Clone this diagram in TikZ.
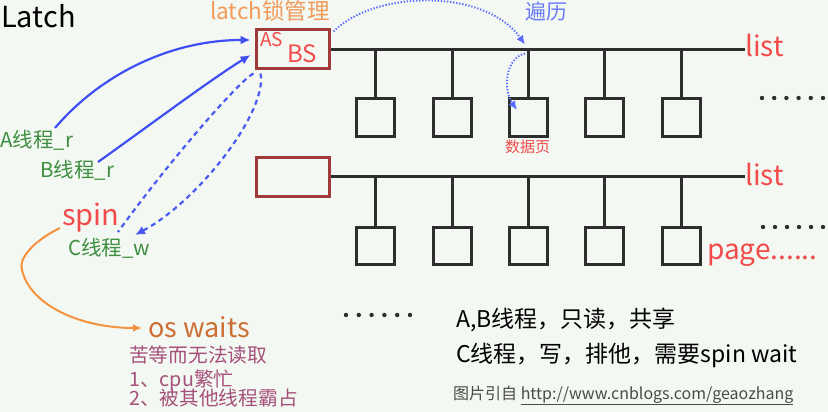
\documentclass[tikz,border=0pt]{standalone}
\usepackage{fontspec}
\setmainfont{Noto Sans CJK SC}
\usetikzlibrary{arrows.meta}
\definecolor{bg}{HTML}{F3F8F2}
\definecolor{latchred}{HTML}{A03A3A}
\definecolor{textred}{HTML}{F24B4B}
\definecolor{arrowblue}{HTML}{3F4FF5}
\definecolor{dashblue}{HTML}{4A5CF0}
\definecolor{dotblue}{HTML}{5A6BFF}
\definecolor{zhblue}{HTML}{6B7CF5}
\definecolor{thgreen}{HTML}{3E8E41}
\definecolor{orangeline}{HTML}{F39340}
\definecolor{titleorange}{HTML}{F29A5A}
\definecolor{osorange}{HTML}{CD6E35}
\definecolor{mauve}{HTML}{A5507A}
\definecolor{boxgray}{HTML}{2E2E2E}
\definecolor{notegray}{HTML}{4A4A4A}
\newcommand{\myfs}[1]{\fontsize{#1}{#1}\selectfont}
\begin{document}
\begin{tikzpicture}[x=1pt,y=-1pt,
  txt/.style={inner sep=0pt, anchor=base west},
  latchbox/.style={draw=latchred, line width=3pt, minimum width=73pt, minimum height=39pt, inner sep=0pt},
  pagebox/.style={draw=boxgray, line width=3pt, minimum width=38pt, minimum height=37pt, inner sep=0pt},
  bus/.style={draw=boxgray, line width=3pt},
  solidarrow/.style={draw=arrowblue, line width=2.2pt, -{Latex[length=10pt,width=9pt]}},
  dasharrow/.style={draw=dashblue, line width=2.2pt, dash pattern=on 5pt off 4pt},
  dotarrow/.style={draw=dotblue, line width=2pt, dash pattern=on 1.3pt off 1.8pt, -{Latex[length=9pt,width=8pt]}},
  orangearrow/.style={draw=orangeline, line width=2pt, -{Latex[length=9pt,width=8pt]}},
  dotc/.style={fill=boxgray}
]
\useasboundingbox (0,0) rectangle (828,412);
\fill[bg] (0,0) rectangle (828,412);

% titles
\node[txt, font=\myfs{29}] (title) at (1,28) {Latch};
\node[txt, text=titleorange, font=\myfs{22.5}] (mgr) at (210,20) {latch锁管理};
\node[txt, text=zhblue, font=\myfs{21}] (trav) at (525,20) {遍历};

% latch boxes
\node[latchbox] (L1) at (292.5,49.5) {};
\node[latchbox] (L2) at (292.5,176.5) {};
\node[txt, text=textred, font=\myfs{19}] (AS) at (260,47) {AS};
\node[txt, text=textred, font=\myfs{24}] (BS) at (287,63) {BS};

% lists
\node[txt, text=textred, font=\myfs{28}] (list1) at (745,57) {list};
\node[txt, text=textred, font=\myfs{28}] (list2) at (745,185) {list};
\draw[bus] (L1.east) -- (L1.east -| list1.west);
\draw[bus] (L2.east) -- (L2.east -| list2.west);

\foreach \i/\x in {1/375,2/452,3/528,4/604,5/681} {
  \node[pagebox] (p1\i) at (\x,117.5) {};
  \draw[bus] (p1\i.north) -- (p1\i.north |- L1.east);
  \node[pagebox] (p2\i) at (\x,245.5) {};
  \draw[bus] (p2\i.north) -- (p2\i.north |- L2.east);
}
\coordinate (j13) at (p13.north |- L1.east);

\node[txt, text=textred, font=\myfs{15}] (dpage) at (505,153) {数据页};
\node[txt, text=textred, font=\myfs{28}] (pagetxt) at (707,259) {page......};

% dots
\foreach \k in {0,...,5} {
  \fill[dotc] (762+12.2*\k,98) circle (2.2pt);
  \fill[dotc] (763+12*\k,227) circle (2.2pt);
  \fill[dotc] (346+12.8*\k,315) circle (2.2pt);
}

% traverse arrows
\draw[dotarrow] ([xshift=3pt,yshift=-3pt]L1.north east) .. controls (375,-10) and (485,-12) .. ([xshift=-3pt,yshift=5pt]j13);
\draw[dotarrow] ([xshift=-3pt,yshift=-4pt]j13) .. controls (505,58) and (503,90) .. ([xshift=-11pt,yshift=7.5pt]p13.center);

% threads
\node[txt, text=thgreen, font=\myfs{20.5}] (A) at (0,147) {A线程\_r};
\node[txt, text=thgreen, font=\myfs{20.5}] (B) at (40,177) {B线程\_r};
\node[txt, text=thgreen, font=\myfs{20.5}] (C) at (68,255) {C线程\_w};

\draw[solidarrow] (55,128) .. controls (100,75) and (170,40) .. ([xshift=-4pt,yshift=9.5pt]L1.west);
\draw[solidarrow] (98,162) .. controls (150,125) and (210,80) .. ([xshift=-4pt,yshift=-5.5pt]L1.west);

\draw[dasharrow] ([xshift=-1pt,yshift=-3pt]L1.south west) .. controls (240,80) and (170,160) .. (118,232);
\draw[dasharrow, -{Latex[length=10pt,width=9pt]}] ([xshift=6pt,yshift=-3pt]L1.south west) .. controls (268,110) and (200,200) .. (135,235);

% spin / os waits
\node[txt, text=textred, font=\myfs{29}] (spin) at (62,225) {spin};
\node[txt, text=osorange, font=\myfs{27}] (os) at (148,337) {os waits};
\draw[orangearrow] ([xshift=-2pt,yshift=-3pt]spin.base west) .. controls (35,240) and (18,258) .. (22,270) .. controls (30,305) and (80,328) .. ([xshift=-6pt,yshift=9pt]os.base west);

\node[txt, text=mauve, font=\myfs{19.7}] (m1) at (129,362) {苦等而无法读取};
\node[txt, text=mauve, font=\myfs{19.7}] (m2) at (129,386) {1、cpu繁忙};
\node[txt, text=mauve, font=\myfs{19.7}] (m3) at (129,405) {2、被其他线程霸占};

% notes
\node[txt, font=\myfs{23}] (n1) at (456,327) {A,B线程，只读，共享};
\node[txt, font=\myfs{23}] (n2) at (456,362) {C线程，写，排他，需要spin wait};
\node[txt, text=notegray, font=\myfs{16}] (src) at (453,399) {图片引自 \underline{http://www.cnblogs.com/geaozhang}};
\end{tikzpicture}
\end{document}
